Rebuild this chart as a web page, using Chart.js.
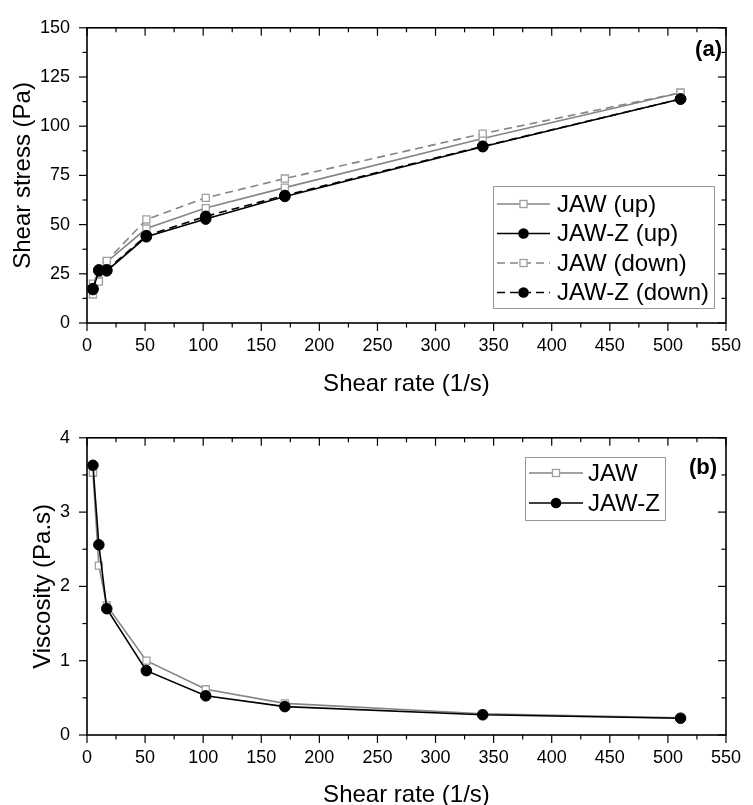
<!DOCTYPE html>
<html>
<head>
<meta charset="utf-8">
<script src="https://cdn.jsdelivr.net/npm/chart.js@4.4.0/dist/chart.umd.min.js"></script>
<style>
  html, body { margin: 0; padding: 0; background: #fff; }
  .box { position: relative; width: 753px; }
  #top { height: 410px; }
  #bot { height: 395px; }
</style>
</head>
<body>
<div class="box" id="top"><canvas id="chartStress"></canvas></div>
<div class="box" id="bot"><canvas id="chartVisc"></canvas></div>
<script>
// datos
const shearRate = [5.1, 10.2, 17.0, 51.1, 102.2, 170.3, 340.6, 510.9];
const jawUp = [14.5, 21.5, 31.0, 48.0, 58.4, 68.8, 93.8, 117.0];
const jawzUp = [17.0, 26.5, 26.5, 43.8, 52.8, 64.3, 89.6, 113.8];
const jawDown = [20.0, 21.0, 31.5, 52.6, 63.6, 73.4, 96.2, 117.0];
const jawzDown = [17.5, 27.0, 27.0, 44.4, 54.2, 64.8, 89.8, 113.8];
const jawVisc = [3.53, 2.28, 1.745, 1.0, 0.615, 0.426, 0.285, 0.23];
const jawzVisc = [3.63, 2.56, 1.70, 0.866, 0.527, 0.382, 0.272, 0.226];

// ticks
const xTicks = [0, 50, 100, 150, 200, 250, 300, 350, 400, 450, 500, 550];
const xMinor = [25, 75, 125, 175, 225, 275, 325, 375, 425, 475, 525];
const stressTicks = [0, 25, 50, 75, 100, 125, 150];
const stressMinor = [12.5, 37.5, 62.5, 87.5, 112.5, 137.5];
const viscTicks = [0, 1, 2, 3, 4];
const viscMinor = [0.5, 1.5, 2.5, 3.5];

const GRAY = '#858585';
const FONT = "'Liberation Sans', Arial, sans-serif";

const pts = arr => arr.map((v, i) => ({ x: shearRate[i], y: v }));

function ds(label, data, color, dash, square, order) {
    return {
        label, data: pts(data), borderColor: color, borderWidth: 1.6, borderDash: dash,
        pointStyle: square ? 'rect' : 'circle', pointRadius: square ? 5 : 5.3, pointHoverRadius: 5,
        pointBorderColor: square ? '#a0a0a0' : '#000', pointBackgroundColor: square ? '#fff' : '#000',
        pointBorderWidth: square ? 1.3 : 1, tension: 0, fill: false, order
    };
}

const framePlugin = {
    id: 'frame',
    beforeDatasetsDraw(chart, args, o) {
        const { ctx, chartArea: a, scales: { x, y } } = chart;
        const line = (x1, y1, x2, y2) => { ctx.beginPath(); ctx.moveTo(x1, y1); ctx.lineTo(x2, y2); ctx.stroke(); };
        ctx.save();
        ctx.strokeStyle = '#000';
        ctx.lineWidth = 1.2;
        xTicks.forEach(v => { const p = x.getPixelForValue(v); line(p, a.bottom, p, a.bottom + 8); line(p, a.top, p, a.top + 8); });
        xMinor.forEach(v => { const p = x.getPixelForValue(v); line(p, a.bottom, p, a.bottom + 4.5); line(p, a.top, p, a.top + 4.5); });
        o.yMajor.forEach(v => { const p = y.getPixelForValue(v); line(a.left - 8, p, a.left, p); line(a.right - 8, p, a.right, p); });
        o.yMinor.forEach(v => { const p = y.getPixelForValue(v); line(a.left - 4.5, p, a.left, p); line(a.right - 4.5, p, a.right, p); });
        ctx.lineWidth = 1.6;
        ctx.strokeRect(a.left, a.top, a.right - a.left, a.bottom - a.top);
        ctx.restore();
    },
    afterDraw(chart, args, o) {
        const { ctx, chartArea: a } = chart;
        ctx.save();
        ctx.fillStyle = '#000';
        ctx.textBaseline = 'middle';
        ctx.textAlign = 'center';
        ctx.font = '24px ' + FONT;
        ctx.fillText(o.xTitle, (a.left + a.right) / 2, o.xTitleY);
        ctx.save();
        ctx.translate(o.yTitleX, (a.top + a.bottom) / 2);
        ctx.rotate(-Math.PI / 2);
        ctx.fillText(o.yTitle, 0, 0);
        ctx.restore();
        // panel label
        ctx.font = 'bold 22px ' + FONT;
        ctx.textAlign = 'right';
        ctx.fillText(o.panel, o.panelX, o.panelY);
        // legend
        const L = o.legend;
        ctx.fillStyle = '#fff';
        ctx.fillRect(L.x, L.y, L.w, L.h);
        ctx.strokeStyle = '#999';
        ctx.lineWidth = 1;
        ctx.strokeRect(L.x + 0.5, L.y + 0.5, L.w, L.h);
        ctx.font = '24px ' + FONT;
        ctx.textAlign = 'left';
        chart.data.datasets.forEach((d, i) => {
            const cy = L.y + L.first + i * L.step;
            ctx.strokeStyle = d.borderColor;
            ctx.lineWidth = d.borderWidth;
            ctx.setLineDash(d.borderDash || []);
            ctx.beginPath(); ctx.moveTo(L.x + 4, cy); ctx.lineTo(L.x + 4 + L.lineLen, cy); ctx.stroke();
            ctx.setLineDash([]);
            const mx = L.x + 4 + L.lineLen / 2;
            ctx.fillStyle = d.pointBackgroundColor;
            ctx.strokeStyle = d.pointBorderColor;
            ctx.lineWidth = d.pointBorderWidth;
            if (d.pointStyle === 'rect') {
                const s = 5 * Math.SQRT1_2;
                ctx.fillRect(mx - s, cy - s, 2 * s, 2 * s);
                ctx.strokeRect(mx - s, cy - s, 2 * s, 2 * s);
            } else {
                ctx.beginPath(); ctx.arc(mx, cy, 5.3, 0, Math.PI * 2); ctx.fill();
            }
            ctx.fillStyle = '#000';
            ctx.fillText(d.label, L.x + L.textX, cy + 1);
        });
        ctx.restore();
    }
};

function makeChart(id, datasets, yTicks, yMin, yMax, plotBottom, frameOpts) {
    const h = document.getElementById(id).parentNode.clientHeight;
    return new Chart(document.getElementById(id), {
        type: 'line',
        data: { datasets },
        options: {
            responsive: true, maintainAspectRatio: false, animation: false,
            layout: { padding: { left: 0, top: frameOpts.top, right: 19, bottom: 0 } },
            plugins: { legend: { display: false }, tooltip: { enabled: false }, frame: frameOpts },
            scales: {
                x: {
                    type: 'linear', min: 0, max: 550,
                    afterBuildTicks: s => { s.ticks = xTicks.map(v => ({ value: v })); },
                    afterFit: s => { s.height = h - plotBottom; },
                    grid: { display: false, drawTicks: false }, border: { display: false },
                    ticks: { color: '#000', font: { family: FONT, size: 18 }, padding: 12, maxRotation: 0, autoSkip: false }
                },
                y: {
                    type: 'linear', min: yMin, max: yMax,
                    afterBuildTicks: s => { s.ticks = yTicks.map(v => ({ value: v })); },
                    afterFit: s => { s.width = 87; },
                    grid: { display: false, drawTicks: false }, border: { display: false },
                    ticks: { color: '#000', font: { family: FONT, size: 18 }, padding: 17 }
                }
            }
        },
        plugins: [framePlugin]
    });
}

makeChart('chartStress', [
    ds('JAW (up)', jawUp, GRAY, [], true, 4),
    ds('JAW-Z (up)', jawzUp, '#000', [], false, 2),
    ds('JAW (down)', jawDown, GRAY, [8, 5], true, 3),
    ds('JAW-Z (down)', jawzDown, '#000', [8, 5], false, 1)
], stressTicks, 0, 150, 323, {
    top: 21, yMajor: stressTicks, yMinor: stressMinor,
    xTitle: 'Shear rate (1/s)', xTitleY: 384,
    yTitle: 'Shear stress (Pa)', yTitleX: 23,
    panel: '(a)', panelX: 722, panelY: 50,
    legend: { x: 493, y: 186, w: 221, h: 122, first: 18, step: 29.5, lineLen: 53, textX: 64 }
});

makeChart('chartVisc', [
    ds('JAW', jawVisc, GRAY, [], true, 2),
    ds('JAW-Z', jawzVisc, '#000', [], false, 1)
], viscTicks, 0, 4, 325, {
    top: 22, yMajor: viscTicks, yMinor: viscMinor,
    xTitle: 'Shear rate (1/s)', xTitleY: 385,
    yTitle: 'Viscosity (Pa.s)', yTitleX: 43,
    panel: '(b)', panelX: 717, panelY: 58,
    legend: { x: 525, y: 47, w: 140, h: 63, first: 16, step: 30, lineLen: 54, textX: 63 }
});
</script>
</body>
</html>
